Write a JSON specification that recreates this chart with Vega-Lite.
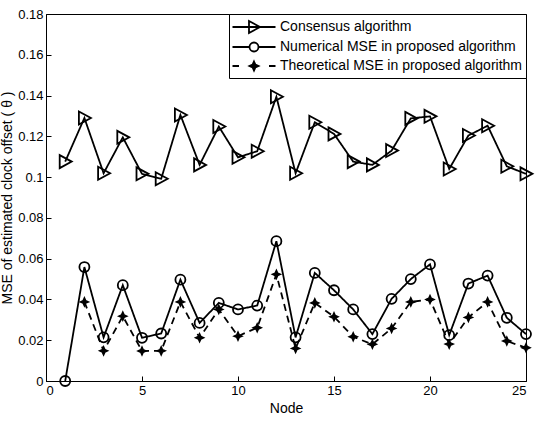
{
  "$schema": "https://vega.github.io/schema/vega-lite/v6.json",
  "width": 480,
  "height": 367,
  "autosize": {"type": "none"},
  "padding": {"left": 46, "top": 14, "right": 20, "bottom": 40},
  "background": "white",
  "config": {
    "font": "Liberation Sans",
    "view": {"stroke": "black", "strokeWidth": 1},
    "axis": {
      "grid": false,
      "domainColor": "black",
      "tickColor": "black",
      "labelColor": "black",
      "titleColor": "black",
      "labelFont": "Liberation Sans",
      "titleFont": "Liberation Sans",
      "labelFontSize": 13,
      "titleFontSize": 14,
      "titleFontWeight": "normal",
      "tickSize": -5,
      "labelPadding": 8
    },
    "legend": {
      "orient": "top-right",
      "offset": 0,
      "strokeColor": "black",
      "fillColor": "white",
      "padding": 3,
      "labelFont": "Liberation Sans",
      "labelFontSize": 14,
      "labelColor": "black",
      "labelLimit": 400,
      "rowPadding": 0
    }
  },
  "data": {
    "values": [
      {"node": 1, "series": "Consensus algorithm", "mse": 0.1076},
      {"node": 2, "series": "Consensus algorithm", "mse": 0.129},
      {"node": 3, "series": "Consensus algorithm", "mse": 0.1019},
      {"node": 4, "series": "Consensus algorithm", "mse": 0.1195},
      {"node": 5, "series": "Consensus algorithm", "mse": 0.1016},
      {"node": 6, "series": "Consensus algorithm", "mse": 0.0992},
      {"node": 7, "series": "Consensus algorithm", "mse": 0.1305},
      {"node": 8, "series": "Consensus algorithm", "mse": 0.106},
      {"node": 9, "series": "Consensus algorithm", "mse": 0.1248},
      {"node": 10, "series": "Consensus algorithm", "mse": 0.1097},
      {"node": 11, "series": "Consensus algorithm", "mse": 0.1127},
      {"node": 12, "series": "Consensus algorithm", "mse": 0.1394},
      {"node": 13, "series": "Consensus algorithm", "mse": 0.1019},
      {"node": 14, "series": "Consensus algorithm", "mse": 0.1269},
      {"node": 15, "series": "Consensus algorithm", "mse": 0.1212},
      {"node": 16, "series": "Consensus algorithm", "mse": 0.1076},
      {"node": 17, "series": "Consensus algorithm", "mse": 0.106},
      {"node": 18, "series": "Consensus algorithm", "mse": 0.113},
      {"node": 19, "series": "Consensus algorithm", "mse": 0.1288},
      {"node": 20, "series": "Consensus algorithm", "mse": 0.1298},
      {"node": 21, "series": "Consensus algorithm", "mse": 0.104},
      {"node": 22, "series": "Consensus algorithm", "mse": 0.1204},
      {"node": 23, "series": "Consensus algorithm", "mse": 0.1252},
      {"node": 24, "series": "Consensus algorithm", "mse": 0.1053},
      {"node": 25, "series": "Consensus algorithm", "mse": 0.1016},
      {"node": 1, "series": "Numerical MSE in proposed algorithm", "mse": 0},
      {"node": 2, "series": "Numerical MSE in proposed algorithm", "mse": 0.0559},
      {"node": 3, "series": "Numerical MSE in proposed algorithm", "mse": 0.0214},
      {"node": 4, "series": "Numerical MSE in proposed algorithm", "mse": 0.047},
      {"node": 5, "series": "Numerical MSE in proposed algorithm", "mse": 0.0212},
      {"node": 6, "series": "Numerical MSE in proposed algorithm", "mse": 0.0233},
      {"node": 7, "series": "Numerical MSE in proposed algorithm", "mse": 0.0497},
      {"node": 8, "series": "Numerical MSE in proposed algorithm", "mse": 0.0285},
      {"node": 9, "series": "Numerical MSE in proposed algorithm", "mse": 0.0383},
      {"node": 10, "series": "Numerical MSE in proposed algorithm", "mse": 0.0351},
      {"node": 11, "series": "Numerical MSE in proposed algorithm", "mse": 0.037},
      {"node": 12, "series": "Numerical MSE in proposed algorithm", "mse": 0.0686},
      {"node": 13, "series": "Numerical MSE in proposed algorithm", "mse": 0.0214},
      {"node": 14, "series": "Numerical MSE in proposed algorithm", "mse": 0.053},
      {"node": 15, "series": "Numerical MSE in proposed algorithm", "mse": 0.0445},
      {"node": 16, "series": "Numerical MSE in proposed algorithm", "mse": 0.0351},
      {"node": 17, "series": "Numerical MSE in proposed algorithm", "mse": 0.023},
      {"node": 18, "series": "Numerical MSE in proposed algorithm", "mse": 0.0403},
      {"node": 19, "series": "Numerical MSE in proposed algorithm", "mse": 0.05},
      {"node": 20, "series": "Numerical MSE in proposed algorithm", "mse": 0.0572},
      {"node": 21, "series": "Numerical MSE in proposed algorithm", "mse": 0.0225},
      {"node": 22, "series": "Numerical MSE in proposed algorithm", "mse": 0.0478},
      {"node": 23, "series": "Numerical MSE in proposed algorithm", "mse": 0.0517},
      {"node": 24, "series": "Numerical MSE in proposed algorithm", "mse": 0.031},
      {"node": 25, "series": "Numerical MSE in proposed algorithm", "mse": 0.023},
      {"node": 2, "series": "Theoretical MSE in proposed algorithm", "mse": 0.0388},
      {"node": 3, "series": "Theoretical MSE in proposed algorithm", "mse": 0.0148},
      {"node": 4, "series": "Theoretical MSE in proposed algorithm", "mse": 0.0318},
      {"node": 5, "series": "Theoretical MSE in proposed algorithm", "mse": 0.0147},
      {"node": 6, "series": "Theoretical MSE in proposed algorithm", "mse": 0.0148},
      {"node": 7, "series": "Theoretical MSE in proposed algorithm", "mse": 0.0388},
      {"node": 8, "series": "Theoretical MSE in proposed algorithm", "mse": 0.0212},
      {"node": 9, "series": "Theoretical MSE in proposed algorithm", "mse": 0.0351},
      {"node": 10, "series": "Theoretical MSE in proposed algorithm", "mse": 0.022},
      {"node": 11, "series": "Theoretical MSE in proposed algorithm", "mse": 0.0261},
      {"node": 12, "series": "Theoretical MSE in proposed algorithm", "mse": 0.0523},
      {"node": 13, "series": "Theoretical MSE in proposed algorithm", "mse": 0.016},
      {"node": 14, "series": "Theoretical MSE in proposed algorithm", "mse": 0.0383},
      {"node": 15, "series": "Theoretical MSE in proposed algorithm", "mse": 0.0315},
      {"node": 16, "series": "Theoretical MSE in proposed algorithm", "mse": 0.0217},
      {"node": 17, "series": "Theoretical MSE in proposed algorithm", "mse": 0.018},
      {"node": 18, "series": "Theoretical MSE in proposed algorithm", "mse": 0.0258},
      {"node": 19, "series": "Theoretical MSE in proposed algorithm", "mse": 0.0388},
      {"node": 20, "series": "Theoretical MSE in proposed algorithm", "mse": 0.04},
      {"node": 21, "series": "Theoretical MSE in proposed algorithm", "mse": 0.0181},
      {"node": 22, "series": "Theoretical MSE in proposed algorithm", "mse": 0.0312},
      {"node": 23, "series": "Theoretical MSE in proposed algorithm", "mse": 0.0388},
      {"node": 24, "series": "Theoretical MSE in proposed algorithm", "mse": 0.0196},
      {"node": 25, "series": "Theoretical MSE in proposed algorithm", "mse": 0.0163}
    ]
  },
  "encoding": {
    "x": {
      "field": "node", "type": "quantitative",
      "scale": {"domain": [0, 25], "nice": false, "zero": false},
      "axis": {"values": [0, 5, 10, 15, 20, 25], "title": "Node", "titlePadding": 4}
    },
    "y": {
      "field": "mse", "type": "quantitative",
      "scale": {"domain": [0, 0.18], "nice": false},
      "axis": {
        "values": [0, 0.02, 0.04, 0.06, 0.08, 0.1, 0.12, 0.14, 0.16, 0.18],
        "format": "~g",
        "title": "MSE of estimated clock offset ( θ )",
        "titlePadding": 3
      }
    }
  },
  "layer": [
    {
      "mark": {"type": "line", "color": "black", "strokeWidth": 1.8},
      "encoding": {
        "detail": {"field": "series", "type": "nominal"},
        "strokeDash": {
          "condition": {"test": "datum.series === 'Theoretical MSE in proposed algorithm'", "value": [7, 5]},
          "value": [1, 0]
        }
      }
    },
    {
      "transform": [{"filter": "datum.series === 'Consensus algorithm'"}],
      "mark": {"type": "point", "filled": false, "stroke": "black", "strokeWidth": 1.8, "opacity": 1, "size": 100, "shape": "M-1.1,-1.3L1.3,0L-1.1,1.3Z"}
    },
    {
      "transform": [{"filter": "datum.series === 'Numerical MSE in proposed algorithm'"}],
      "mark": {"type": "point", "filled": false, "stroke": "black", "strokeWidth": 1.8, "opacity": 1, "size": 100, "shape": "M1,0A1,1 0 1,1 -1,0A1,1 0 1,1 1,0Z"}
    },
    {
      "transform": [{"filter": "datum.series === 'Theoretical MSE in proposed algorithm'"}],
      "mark": {"type": "point", "filled": true, "fill": "black", "stroke": "black", "strokeWidth": 1.5, "opacity": 1, "size": 100, "shape": "M0,-0.8L0.25,-0.25L0.8,0L0.25,0.25L0,0.8L-0.25,0.25L-0.8,0L-0.25,-0.25Z"}
    },
    {
      "transform": [{"filter": "datum.node < 0"}],
      "mark": {"type": "point", "filled": false, "stroke": "black", "strokeWidth": 1.8, "opacity": 1},
      "encoding": {
        "shape": {
          "field": "series", "type": "nominal",
          "scale": {
            "domain": ["Consensus algorithm", "Numerical MSE in proposed algorithm", "Theoretical MSE in proposed algorithm"],
            "range": [
              "M-2.39,0H2.39M-0.556,-0.667L0.667,0L-0.556,0.667Z",
              "M-2.39,0H-0.5M0.5,0H2.39M0.5,0A0.5,0.5 0 1,1 -0.5,0A0.5,0.5 0 1,1 0.5,0Z",
              "M-2.39,0H-1.67M1.67,0H2.39M0,-0.5L0.156,-0.156L0.5,0L0.156,0.156L0,0.5L-0.156,0.156L-0.5,0L-0.156,-0.156ZM0,-0.444V0.444M-0.444,0H0.444M-0.2,-0.2L0.2,0.2M-0.2,0.2L0.2,-0.2"
            ]
          },
          "legend": {
            "title": null,
            "symbolSize": 324,
            "symbolOffset": 12,
            "labelOffset": 16,
            "symbolStrokeWidth": 1.8,
            "symbolStrokeColor": "black"
          }
        }
      }
    }
  ]
}
